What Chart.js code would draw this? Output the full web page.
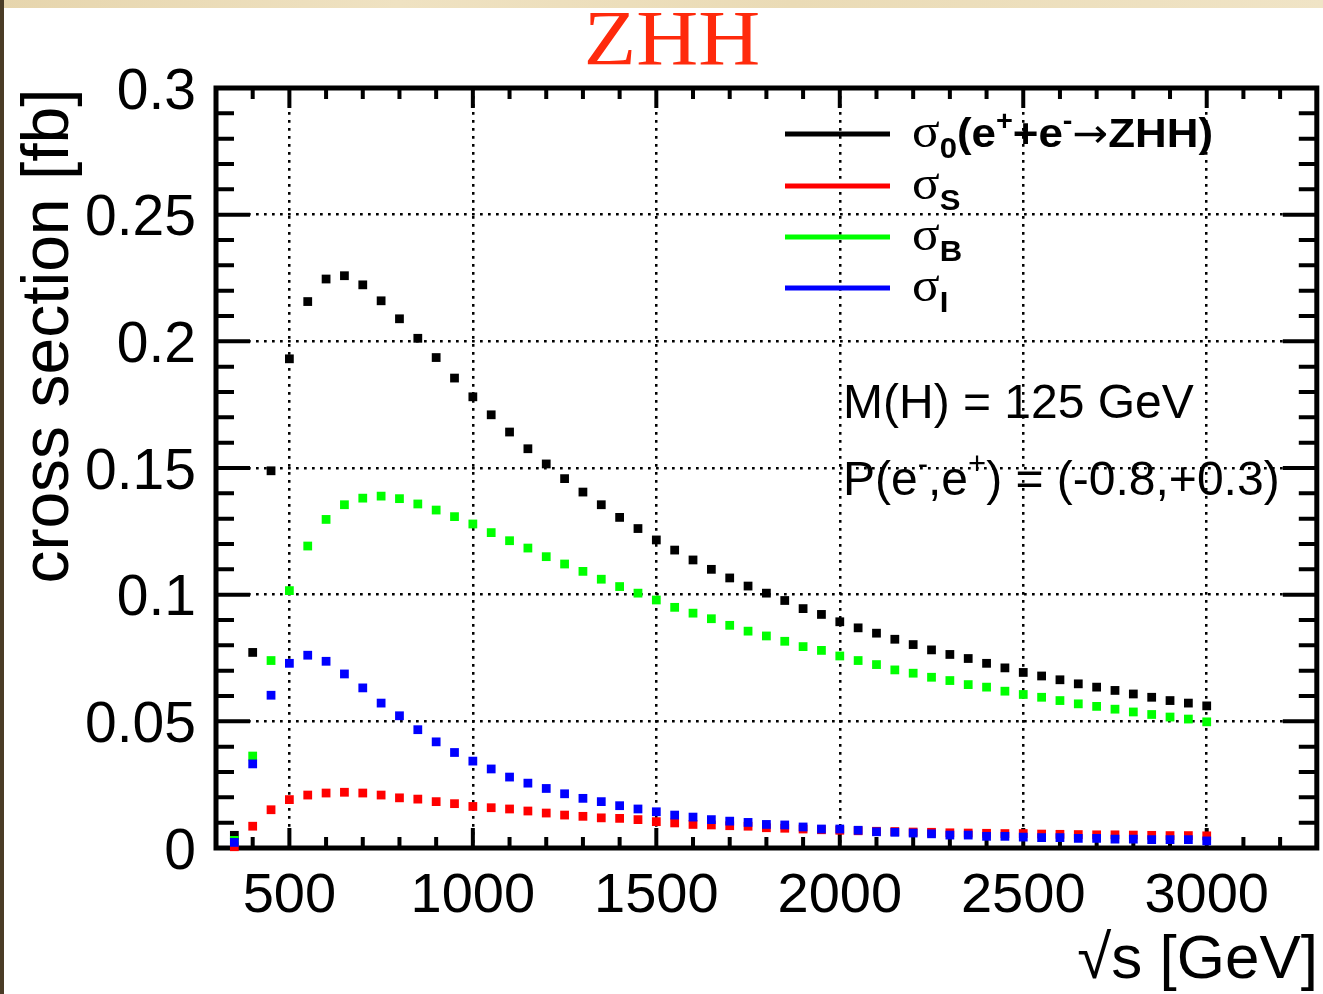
<!DOCTYPE html>
<html>
<head>
<meta charset="utf-8">
<title>ZHH cross section</title>
<script src="https://cdn.jsdelivr.net/npm/chart.js@4.4.1/dist/chart.umd.min.js"></script>
<style>
    html, body { margin: 0; padding: 0; background: #fff; }
    #wrap { position: relative; width: 1323px; height: 994px; overflow: hidden; background: #fff; }
    #topStrip { position: absolute; left: 0; top: 0; width: 1323px; height: 8px;
        background: linear-gradient(90deg, #e6d5ad, #efe2c2 30%, #eadbb6 60%, #f0e4c6); }
    #leftStrip { position: absolute; left: 0; top: 0; width: 4px; height: 994px; background: #4a3c26; }
    canvas { position: absolute; left: 0; top: 0; }
</style>
</head>
<body>
<div id="wrap">
    <div id="topStrip"></div>
    <div id="leftStrip"></div>
    <canvas id="xsecChart" width="1323" height="994"></canvas>
</div>
<script>
// sqrt(s) in GeV
const sqrtS = [350, 400, 450, 500, 550, 600, 650, 700, 750, 800, 850, 900, 950, 1000,
    1050, 1100, 1150, 1200, 1250, 1300, 1350, 1400, 1450, 1500, 1550, 1600, 1650, 1700,
    1750, 1800, 1850, 1900, 1950, 2000, 2050, 2100, 2150, 2200, 2250, 2300, 2350, 2400,
    2450, 2500, 2550, 2600, 2650, 2700, 2750, 2800, 2850, 2900, 2950, 3000];

// cross sections in fb
const sigma0 = [0.0050, 0.0772, 0.1489, 0.1931, 0.2157, 0.2246, 0.2259, 0.2223, 0.2160, 0.2089,
    0.2012, 0.1936, 0.1855, 0.1781, 0.1710, 0.1642, 0.1576, 0.1516, 0.1458, 0.1405,
    0.1355, 0.1305, 0.1261, 0.1216, 0.1176, 0.1137, 0.1100, 0.1066, 0.1034, 0.1006,
    0.0977, 0.0945, 0.0922, 0.0893, 0.0869, 0.0848, 0.0824, 0.0803, 0.0782, 0.0764,
    0.0748, 0.0729, 0.0711, 0.0693, 0.0679, 0.0664, 0.0648, 0.0635, 0.0622, 0.0608,
    0.0595, 0.0582, 0.0572, 0.0561];
const sigmaS = [0.0005, 0.0086, 0.0151, 0.0191, 0.0209, 0.0217, 0.0220, 0.0217, 0.0209, 0.0198,
    0.0193, 0.0183, 0.0175, 0.0164, 0.0159, 0.0154, 0.0146, 0.0138, 0.0130, 0.0125,
    0.0119, 0.0117, 0.0112, 0.0104, 0.0099, 0.0093, 0.0091, 0.0088, 0.0086, 0.0080,
    0.0078, 0.0075, 0.0072, 0.0070, 0.0068, 0.0066, 0.0065, 0.0063, 0.0062, 0.0060,
    0.0059, 0.0058, 0.0057, 0.0057, 0.0055, 0.0054, 0.0053, 0.0052, 0.0052, 0.0051,
    0.0050, 0.0049, 0.0049, 0.0048];
const sigmaB = [0.0030, 0.0363, 0.0740, 0.1016, 0.1192, 0.1297, 0.1355, 0.1381, 0.1389, 0.1379,
    0.1358, 0.1334, 0.1308, 0.1279, 0.1245, 0.1213, 0.1184, 0.1150, 0.1121, 0.1092,
    0.1061, 0.1032, 0.1006, 0.0979, 0.0950, 0.0927, 0.0905, 0.0879, 0.0856, 0.0837,
    0.0816, 0.0795, 0.0780, 0.0758, 0.0740, 0.0724, 0.0703, 0.0690, 0.0674, 0.0661,
    0.0645, 0.0635, 0.0619, 0.0606, 0.0595, 0.0582, 0.0569, 0.0559, 0.0548, 0.0537,
    0.0527, 0.0517, 0.0509, 0.0498];
const sigmaI = [0.0022, 0.0332, 0.0603, 0.0729, 0.0761, 0.0737, 0.0687, 0.0632, 0.0572, 0.0522,
    0.0467, 0.0419, 0.0377, 0.0343, 0.0312, 0.0280, 0.0256, 0.0235, 0.0214, 0.0196,
    0.0183, 0.0167, 0.0154, 0.0143, 0.0130, 0.0122, 0.0112, 0.0106, 0.0101, 0.0093,
    0.0091, 0.0083, 0.0075, 0.0075, 0.0070, 0.0064, 0.0062, 0.0059, 0.0056, 0.0051,
    0.0051, 0.0046, 0.0046, 0.0043, 0.0041, 0.0041, 0.0038, 0.0038, 0.0035, 0.0035,
    0.0033, 0.0033, 0.0033, 0.0028];

const seriesColors = ['#000000', '#ff0000', '#00ff00', '#0000ff'];
const seriesSubs = ['0', 'S', 'B', 'I'];

const xTicks = [500, 1000, 1500, 2000, 2500, 3000];
const xTickLabels = ['500', '1000', '1500', '2000', '2500', '3000'];
const yTicks = [0, 0.05, 0.1, 0.15, 0.2, 0.25, 0.3];
const yTickLabels = ['0', '0.05', '0.1', '0.15', '0.2', '0.25', '0.3'];

const SANS = '"Liberation Sans", Arial, Helvetica, sans-serif';
const SERIF = '"Liberation Serif", "Times New Roman", serif';

function toPoints(values) {
    return sqrtS.map((e, i) => ({ x: e, y: values[i] }));
}

// draws a run of text pieces with their own font / vertical offset,
// sx stretches the run horizontally
function drawRich(ctx, x, y, parts, sx = 1) {
    for (const p of parts) {
        ctx.font = p.f;
        ctx.save();
        ctx.translate(x, y + (p.dy || 0));
        ctx.scale(sx, 1);
        ctx.fillText(p.t, 0, 0);
        ctx.restore();
        x += ctx.measureText(p.t).width * sx;
    }
}

// ROOT-like frame with inside ticks on all four sides
const rootFrame = {
    id: 'rootFrame',
    beforeDatasetsDraw(chart) {
        const { ctx, chartArea: a, scales: { x, y } } = chart;
        ctx.save();
        ctx.strokeStyle = '#000';
        ctx.lineWidth = 4;
        ctx.beginPath();
        for (let v = 400; v < 3300; v += 100) {
            const px = x.getPixelForValue(v);
            const len = (v % 500 === 0) ? 20 : 11;
            ctx.moveTo(px, a.bottom); ctx.lineTo(px, a.bottom - len);
            ctx.moveTo(px, a.top); ctx.lineTo(px, a.top + len);
        }
        for (let i = 1; i < 30; i++) {
            const py = y.getPixelForValue(i / 100);
            const len = (i % 5 === 0) ? 34 : 18;
            ctx.moveTo(a.left, py); ctx.lineTo(a.left + len, py);
            ctx.moveTo(a.right, py); ctx.lineTo(a.right - len, py);
        }
        ctx.stroke();
        ctx.lineWidth = 5;
        ctx.strokeRect(a.left, a.top, a.right - a.left, a.bottom - a.top);
        ctx.restore();
    },
    afterDraw(chart) {
        const { ctx } = chart;
        ctx.save();
        ctx.fillStyle = '#000';
        ctx.textBaseline = 'alphabetic';

        // title
        ctx.fillStyle = '#ff2a0c';
        ctx.font = '78px ' + SERIF;
        ctx.textAlign = 'center';
        ctx.save();
        ctx.translate(672, 64);
        ctx.scale(1.1, 1.0);
        ctx.fillText('ZHH', 0, 0);
        ctx.restore();

        // axis titles
        ctx.fillStyle = '#000';
        ctx.font = '66px ' + SANS;
        ctx.save();
        ctx.translate(68, 336);
        ctx.rotate(-Math.PI / 2);
        ctx.fillText('cross section [fb]', 0, 0);
        ctx.restore();
        ctx.textAlign = 'right';
        ctx.font = '62px ' + SANS;
        ctx.fillText('\u221As [GeV]', 1318, 978);

        // legend
        ctx.textAlign = 'left';
        const rows = [134, 186, 237, 288];
        rows.forEach((ry, i) => {
            ctx.strokeStyle = seriesColors[i];
            ctx.lineWidth = 5;
            ctx.beginPath();
            ctx.moveTo(785, ry);
            ctx.lineTo(890, ry);
            ctx.stroke();
            const parts = [
                { t: '\u03C3', f: '48px ' + SERIF },
                { t: seriesSubs[i], f: 'bold 29px ' + SANS, dy: 11 }
            ];
            if (i === 0) {
                parts.push(
                    { t: '(e', f: 'bold 41px ' + SANS },
                    { t: '+', f: 'bold 27px ' + SANS, dy: -17 },
                    { t: '+e', f: 'bold 41px ' + SANS },
                    { t: '-', f: 'bold 27px ' + SANS, dy: -17 },
                    { t: '\u2192', f: '40px "DejaVu Sans", sans-serif' },
                    { t: 'ZHH)', f: 'bold 41px ' + SANS }
                );
            }
            drawRich(ctx, 912, ry + 13, parts, 1.07);
        });

        // annotations
        ctx.font = '48px ' + SANS;
        ctx.fillText('M(H) = 125 GeV', 843, 418);
        drawRich(ctx, 843, 495, [
            { t: 'P(e', f: '48px ' + SANS },
            { t: '-', f: '31px ' + SANS, dy: -21 },
            { t: ',e', f: '48px ' + SANS },
            { t: '+', f: '31px ' + SANS, dy: -21 },
            { t: ') = (-0.8,+0.3)', f: '48px ' + SANS }
        ]);
        ctx.restore();
    }
};

const gridCommon = {
    color: '#000',
    lineWidth: 2.5,
    drawTicks: false
};

const datasets = [sigma0, sigmaS, sigmaB, sigmaI].map((vals, i) => ({
    label: 'sigma_' + seriesSubs[i],
    data: toPoints(vals),
    pointStyle: 'rect',
    pointRadius: 6.2,
    pointHoverRadius: 6.2,
    borderWidth: 0,
    backgroundColor: seriesColors[i],
    borderColor: seriesColors[i],
    showLine: false,
    clip: false,
    order: 3 - i
}));

new Chart(document.getElementById('xsecChart'), {
    type: 'scatter',
    data: { datasets },
    plugins: [rootFrame],
    options: {
        responsive: false,
        animation: false,
        devicePixelRatio: 1,
        layout: { padding: { top: 88, right: 3, left: 0, bottom: 0 } },
        plugins: {
            legend: { display: false },
            tooltip: { enabled: false },
            title: { display: false }
        },
        scales: {
            x: {
                type: 'linear',
                min: 300,
                max: 3300,
                afterBuildTicks: s => { s.ticks = xTicks.map(v => ({ value: v })); },
                afterFit: s => { s.height = 146; },
                grid: gridCommon,
                border: { display: false, dash: [2.7, 5.3] },
                ticks: {
                    autoSkip: false,
                    maxRotation: 0,
                    padding: 15,
                    color: '#000',
                    font: { family: SANS, size: 56 },
                    callback: v => xTickLabels[xTicks.indexOf(v)]
                }
            },
            y: {
                type: 'linear',
                min: 0,
                max: 0.3,
                afterBuildTicks: s => { s.ticks = yTicks.map(v => ({ value: v })); },
                afterFit: s => { s.width = 216; },
                grid: gridCommon,
                border: { display: false, dash: [2.7, 5.3] },
                ticks: {
                    autoSkip: false,
                    padding: 20,
                    labelOffset: 5,
                    color: '#000',
                    font: { family: SANS, size: 57 },
                    callback: (v, idx) => yTickLabels[idx]
                }
            }
        }
    }
});
</script>
</body>
</html>
